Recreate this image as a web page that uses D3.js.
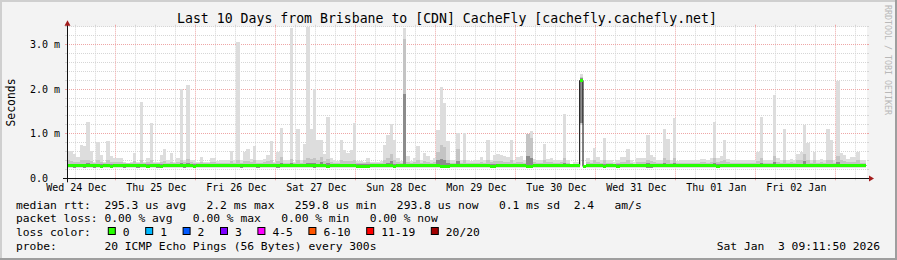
<!DOCTYPE html>
<html><head><meta charset="utf-8">
<script src="https://cdn.jsdelivr.net/npm/d3@7"></script>
<style>
html,body{margin:0;padding:0;background:#f3f3f3;}
svg{display:block;}
text{font-family:"DejaVu Sans Mono",monospace;white-space:pre;}
</style></head><body>
<svg id="c" width="897" height="260"></svg>
<script>
// ---------- data ----------
const titleText = "Last 10 Days from Brisbane to [CDN] CacheFly [cachefly.cachefly.net]";
const yAxisTitle = "Seconds";
const watermark = "RRDTOOL / TOBI OETIKER";
const endTime = new Date("2026-01-03T09:11:50Z");
const startTime = new Date("2025-12-24T09:11:50Z");
const firstBin = new Date("2025-12-24T09:00:00Z"); // hourly bins
const yMax = 3.4; // ms
const yTickValues = [0, 1, 2, 3];
const yTickLabels = ["0.0", "1.0 m", "2.0 m", "3.0 m"];
const dayLabels = ["Wed 24 Dec","Thu 25 Dec","Fri 26 Dec","Sat 27 Dec","Sun 28 Dec","Mon 29 Dec","Tue 30 Dec","Wed 31 Dec","Thu 01 Jan","Fri 02 Jan"];

// hourly smoke (ms): highest ping
const maxRtt = [
0.61,0.61,0.55,0.48,0.74,0.73,1.27,0.61,0.36,0.81,0.52,0.36,0.83,0.49,0.45,0.45,0.45,0.36,0.35,0.36,
0.57,0.36,1.71,0.36,0.46,1.24,0.36,0.36,0.52,0.65,0.40,0.57,0.36,0.46,2.00,0.42,2.09,0.42,0.42,0.36,
0.48,0.37,0.37,0.46,0.46,0.38,0.40,0.40,0.40,0.61,0.40,3.06,0.40,0.59,0.65,0.44,0.72,0.40,0.40,0.43,
0.52,0.83,0.36,0.59,1.13,0.40,0.40,3.38,0.36,1.10,0.40,0.77,3.39,1.10,2.00,0.85,0.85,0.55,1.38,0.46,
0.40,0.38,0.85,0.63,0.57,0.63,1.25,0.38,0.38,0.36,0.46,0.36,0.36,0.37,0.38,0.74,0.96,1.21,0.85,0.45,
0.38,3.38,0.50,0.38,0.45,0.72,0.40,0.57,0.49,0.40,0.46,1.09,2.04,1.69,0.84,0.40,0.40,1.02,0.40,1.02,
0.40,0.38,0.40,0.40,0.47,0.40,0.85,0.42,0.52,0.55,0.52,0.49,0.48,0.87,0.40,0.48,0.50,0.40,1.00,1.07,
0.44,0.40,0.40,0.76,0.44,0.46,0.40,0.40,0.42,1.44,0.40,0.33,0.37,0.37,2.34,0.30,0.46,0.40,0.68,0.48,
0.40,0.91,0.40,0.40,0.37,0.40,0.48,0.48,0.65,0.40,0.37,0.46,0.46,0.46,0.96,0.52,0.48,0.40,0.40,1.11,
0.88,0.42,1.35,0.39,0.40,0.40,0.40,0.40,0.40,0.40,0.44,0.44,0.40,0.46,1.27,0.45,0.50,0.85,0.44,0.40,
0.40,0.41,0.40,0.40,0.41,0.40,0.40,0.60,1.37,0.40,0.40,0.40,1.87,0.45,0.40,1.10,0.41,0.44,0.40,0.55,
0.58,1.20,0.80,0.40,0.58,0.40,0.44,0.40,1.10,0.85,0.40,2.19,0.57,0.53,0.44,0.48,0.47,0.60,0.41,0.41];

// second-highest ping region (top of mid smoke)
const p90Rtt = [
0.40,0.38,0.36,0.36,0.40,0.40,0.42,0.38,0.34,0.40,0.36,0.34,0.40,0.36,0.37,0.36,0.36,0.34,0.34,0.34,
0.38,0.34,0.40,0.34,0.36,0.42,0.34,0.34,0.36,0.38,0.35,0.36,0.34,0.36,0.42,0.36,0.44,0.36,0.35,0.34,
0.36,0.34,0.34,0.36,0.36,0.34,0.35,0.35,0.35,0.38,0.35,0.40,0.35,0.38,0.38,0.36,0.40,0.35,0.34,0.36,
0.38,0.42,0.34,0.38,0.48,0.35,0.35,0.44,0.34,0.40,0.35,0.40,0.46,0.44,0.45,0.42,0.48,0.38,0.44,0.36,
0.35,0.34,0.40,0.38,0.38,0.38,0.42,0.34,0.34,0.34,0.36,0.34,0.34,0.34,0.34,0.40,0.45,0.55,0.42,0.36,
0.34,3.12,0.36,0.34,0.36,0.40,0.35,0.38,0.36,0.35,0.36,0.60,0.75,0.70,0.42,0.35,0.35,0.65,0.35,0.40,
0.35,0.34,0.35,0.35,0.36,0.35,0.40,0.36,0.38,0.38,0.38,0.37,0.36,0.40,0.35,0.36,0.37,0.35,1.00,0.90,
0.36,0.35,0.35,0.40,0.36,0.36,0.35,0.35,0.36,0.45,0.35,0.31,0.33,0.33,2.28,0.29,0.36,0.35,0.40,0.36,
0.35,0.42,0.35,0.35,0.33,0.35,0.37,0.37,0.40,0.35,0.33,0.36,0.36,0.36,0.42,0.38,0.37,0.35,0.35,0.45,
0.42,0.35,0.45,0.34,0.35,0.35,0.35,0.35,0.35,0.35,0.36,0.36,0.35,0.36,0.45,0.36,0.38,0.42,0.36,0.35,
0.35,0.35,0.35,0.35,0.35,0.35,0.35,0.38,0.45,0.35,0.35,0.35,0.50,0.36,0.35,0.42,0.35,0.36,0.35,0.40,
0.40,0.55,0.42,0.35,0.40,0.35,0.36,0.35,0.42,0.40,0.35,0.50,0.40,0.38,0.36,0.37,0.37,0.40,0.35,0.35];

// upper quartile (top of dark inner smoke)
const upperRtt = [
0.33,0.32,0.32,0.32,0.33,0.33,0.34,0.32,0.31,0.33,0.32,0.31,0.33,0.32,0.32,0.32,0.32,0.31,0.31,0.31,
0.32,0.31,0.33,0.31,0.32,0.33,0.31,0.31,0.32,0.32,0.31,0.32,0.31,0.32,0.34,0.32,0.34,0.32,0.31,0.31,
0.32,0.31,0.31,0.32,0.32,0.32,0.32,0.32,0.32,0.33,0.32,0.33,0.32,0.32,0.32,0.32,0.33,0.32,0.31,0.32,
0.32,0.33,0.31,0.32,0.35,0.32,0.32,0.34,0.31,0.33,0.32,0.33,0.35,0.34,0.34,0.33,0.36,0.32,0.34,0.32,
0.32,0.31,0.33,0.32,0.32,0.32,0.33,0.31,0.31,0.31,0.31,0.31,0.31,0.31,0.31,0.32,0.34,0.38,0.33,0.31,
0.31,1.90,0.32,0.31,0.32,0.33,0.31,0.32,0.32,0.31,0.32,0.40,0.44,0.42,0.34,0.31,0.31,0.38,0.31,0.33,
0.31,0.31,0.31,0.31,0.32,0.31,0.33,0.32,0.32,0.32,0.32,0.32,0.32,0.33,0.31,0.32,0.32,0.31,0.50,0.45,
0.32,0.31,0.31,0.33,0.32,0.32,0.31,0.31,0.32,0.34,0.31,0.30,0.31,0.31,2.24,0.285,0.32,0.31,0.33,0.32,
0.31,0.33,0.31,0.31,0.30,0.31,0.32,0.32,0.33,0.31,0.30,0.32,0.32,0.32,0.34,0.33,0.32,0.31,0.31,0.34,
0.33,0.31,0.34,0.31,0.31,0.31,0.31,0.31,0.32,0.31,0.32,0.32,0.31,0.32,0.34,0.32,0.32,0.33,0.32,0.31,
0.31,0.31,0.31,0.31,0.31,0.31,0.31,0.32,0.34,0.31,0.31,0.31,0.36,0.32,0.31,0.33,0.31,0.32,0.31,0.33,
0.33,0.38,0.33,0.31,0.33,0.31,0.32,0.31,0.33,0.33,0.31,0.36,0.33,0.32,0.32,0.32,0.32,0.33,0.31,0.31];

// median rtt (ms)
const medianRtt = [
0.29,0.29,0.29,0.29,0.29,0.29,0.30,0.29,0.29,0.30,0.28,0.29,0.30,0.28,0.29,0.29,0.30,0.29,0.29,0.29,
0.29,0.29,0.30,0.29,0.28,0.29,0.29,0.29,0.28,0.29,0.29,0.29,0.30,0.29,0.29,0.29,0.29,0.29,0.28,0.29,
0.29,0.29,0.29,0.29,0.30,0.30,0.30,0.30,0.30,0.29,0.29,0.29,0.29,0.29,0.29,0.29,0.29,0.29,0.29,0.29,
0.29,0.29,0.29,0.29,0.29,0.29,0.29,0.29,0.29,0.29,0.29,0.29,0.29,0.29,0.29,0.29,0.30,0.29,0.28,0.29,
0.29,0.29,0.29,0.29,0.29,0.29,0.29,0.28,0.28,0.28,0.28,0.29,0.29,0.29,0.30,0.29,0.29,0.29,0.27,0.29,
0.29,0.29,0.29,0.29,0.29,0.29,0.29,0.29,0.29,0.29,0.29,0.29,0.28,0.28,0.27,0.29,0.29,0.29,0.29,0.29,
0.29,0.29,0.29,0.29,0.29,0.29,0.29,0.28,0.28,0.29,0.29,0.29,0.29,0.29,0.29,0.29,0.29,0.29,0.28,0.28,
0.29,0.29,0.29,0.29,0.29,0.30,0.29,0.29,0.29,0.29,0.29,0.29,0.29,0.29,2.20,0.28,0.29,0.29,0.29,0.29,
0.29,0.28,0.29,0.29,0.29,0.28,0.29,0.29,0.29,0.29,0.29,0.30,0.29,0.29,0.29,0.29,0.29,0.29,0.29,0.29,
0.29,0.29,0.29,0.29,0.29,0.29,0.29,0.29,0.30,0.29,0.29,0.29,0.29,0.29,0.29,0.28,0.29,0.29,0.29,0.29,
0.29,0.29,0.29,0.29,0.29,0.29,0.29,0.29,0.29,0.29,0.29,0.29,0.29,0.29,0.29,0.29,0.29,0.29,0.29,0.29,
0.29,0.29,0.29,0.29,0.29,0.29,0.29,0.29,0.29,0.29,0.29,0.29,0.29,0.30,0.29,0.29,0.29,0.29,0.29,0.29];

// lower quartile
const lowerRtt = [
0.25,0.25,0.24,0.25,0.25,0.24,0.25,0.25,0.24,0.25,0.24,0.25,0.25,0.24,0.25,0.25,0.25,0.24,0.25,0.25,
0.25,0.24,0.25,0.25,0.24,0.25,0.25,0.24,0.24,0.25,0.25,0.25,0.25,0.25,0.25,0.24,0.25,0.25,0.24,0.25,
0.25,0.25,0.25,0.25,0.26,0.26,0.26,0.26,0.26,0.25,0.25,0.25,0.24,0.25,0.25,0.25,0.25,0.24,0.25,0.25,
0.25,0.25,0.25,0.24,0.25,0.25,0.25,0.25,0.25,0.25,0.25,0.25,0.25,0.25,0.24,0.25,0.25,0.25,0.24,0.25,
0.25,0.25,0.25,0.25,0.25,0.25,0.25,0.24,0.24,0.24,0.24,0.25,0.25,0.25,0.25,0.25,0.25,0.25,0.23,0.25,
0.25,0.25,0.25,0.25,0.25,0.25,0.25,0.25,0.25,0.25,0.25,0.25,0.24,0.24,0.23,0.25,0.25,0.25,0.25,0.25,
0.25,0.25,0.25,0.25,0.25,0.25,0.25,0.24,0.24,0.25,0.25,0.25,0.25,0.25,0.25,0.25,0.25,0.25,0.24,0.24,
0.25,0.25,0.25,0.25,0.25,0.25,0.25,0.25,0.25,0.25,0.25,0.25,0.25,0.25,1.25,0.26,0.25,0.25,0.25,0.25,
0.25,0.24,0.25,0.25,0.25,0.24,0.25,0.25,0.25,0.25,0.25,0.25,0.25,0.25,0.24,0.24,0.25,0.25,0.25,0.25,
0.25,0.25,0.25,0.25,0.25,0.25,0.25,0.25,0.25,0.25,0.25,0.25,0.25,0.25,0.25,0.24,0.25,0.25,0.25,0.25,
0.25,0.25,0.25,0.25,0.25,0.25,0.25,0.25,0.25,0.25,0.25,0.25,0.25,0.25,0.25,0.25,0.25,0.25,0.25,0.25,
0.25,0.25,0.25,0.25,0.25,0.25,0.25,0.25,0.25,0.25,0.25,0.25,0.25,0.25,0.25,0.25,0.25,0.25,0.25,0.25];

// lowest ping
const minRtt = [
0.22,0.22,0.22,0.23,0.22,0.22,0.23,0.22,0.22,0.22,0.22,0.23,0.22,0.22,0.23,0.22,0.22,0.22,0.23,0.22,
0.22,0.22,0.23,0.22,0.22,0.22,0.23,0.22,0.22,0.22,0.22,0.22,0.23,0.22,0.22,0.22,0.22,0.23,0.22,0.22,
0.22,0.23,0.22,0.22,0.23,0.23,0.23,0.23,0.23,0.22,0.22,0.22,0.22,0.22,0.23,0.22,0.22,0.22,0.22,0.23,
0.22,0.22,0.23,0.22,0.22,0.22,0.23,0.22,0.22,0.22,0.22,0.23,0.22,0.22,0.22,0.22,0.23,0.22,0.22,0.22,
0.22,0.23,0.22,0.22,0.22,0.22,0.23,0.22,0.22,0.22,0.22,0.22,0.23,0.22,0.22,0.22,0.22,0.22,0.22,0.22,
0.23,0.22,0.22,0.22,0.22,0.23,0.22,0.22,0.22,0.22,0.22,0.22,0.22,0.22,0.22,0.23,0.22,0.22,0.22,0.22,
0.22,0.22,0.23,0.22,0.22,0.22,0.22,0.22,0.22,0.22,0.23,0.22,0.22,0.22,0.22,0.22,0.23,0.22,0.22,0.22,
0.22,0.22,0.22,0.23,0.22,0.22,0.22,0.22,0.22,0.22,0.22,0.23,0.22,0.22,1.19,0.24,0.22,0.22,0.22,0.22,
0.22,0.22,0.22,0.22,0.23,0.22,0.22,0.22,0.22,0.23,0.22,0.22,0.22,0.22,0.22,0.22,0.22,0.23,0.22,0.22,
0.22,0.22,0.22,0.22,0.22,0.23,0.22,0.22,0.22,0.22,0.22,0.22,0.23,0.22,0.22,0.22,0.22,0.22,0.22,0.23,
0.22,0.22,0.22,0.22,0.22,0.22,0.23,0.22,0.22,0.22,0.22,0.22,0.22,0.23,0.22,0.22,0.22,0.22,0.22,0.22,
0.23,0.22,0.22,0.22,0.22,0.22,0.22,0.22,0.23,0.22,0.22,0.22,0.22,0.22,0.22,0.22,0.23,0.22,0.22,0.22];

const legendMedian = "median rtt:  295.3 us avg   2.2 ms max   259.8 us min   293.8 us now   0.1 ms sd  2.4   am/s";
const legendLoss = "packet loss: 0.00 % avg   0.00 % max   0.00 % min   0.00 % now";
const legendLossTitle = "loss color:";
const lossLabels = ["0","1","2","3","4-5","6-10","11-19","20/20"];
const lossColors = ["#26ff00","#00b8ff","#0059ff","#7e00ff","#ff00ff","#ff5500","#ff0000","#a10000"];
const legendProbe = "probe:       20 ICMP Echo Pings (56 Bytes) every 300s";
const stampText = "Sat Jan  3 09:11:50 2026";

// ---------- drawing ----------
const W = 897, H = 260;
const svg = d3.select("#c");
const x = d3.scaleUtc().domain([startTime, endTime]).range([67, 867]);
const y = d3.scaleLinear().domain([0, yMax]).range([178.3, 26.7]);
const plotL = x.range()[0], plotR = x.range()[1], plotT = y(yMax), plotB = y(0);
const cw = 6.8; // legend char width

svg.append("rect").attr("width", W).attr("height", H).attr("fill", "#f3f3f3");
// frame shading
svg.append("rect").attr("x",0).attr("y",0).attr("width",W).attr("height",2).attr("fill","#cfcfcf");
svg.append("rect").attr("x",0).attr("y",0).attr("width",2).attr("height",H).attr("fill","#cfcfcf");
svg.append("rect").attr("x",0).attr("y",H-2).attr("width",W).attr("height",2).attr("fill","#9e9e9e");
svg.append("rect").attr("x",W-2).attr("y",0).attr("width",2).attr("height",H).attr("fill","#9e9e9e");

// canvas
svg.append("rect").attr("x", plotL).attr("y", plotT).attr("width", plotR - plotL).attr("height", plotB - plotT).attr("fill", "#ffffff");

const defs = svg.append("defs");
defs.append("clipPath").attr("id","clip").append("rect")
  .attr("x", plotL).attr("y", plotT).attr("width", plotR - plotL).attr("height", plotB - plotT + 1);

const minorCol = "#d6d6d6", majorCol = "#eea6a6";
const vx = v => Math.round(x(v)) - 0.5;
const hy = v => Math.floor(y(v)) + 0.5;

// grid
const g = svg.append("g");
const minorV = d3.utcHour.every(6).range(startTime, endTime).filter(d => d.getUTCHours() !== 0);
const majorV = d3.utcDay.range(startTime, endTime);
const minorH = d3.range(1, 18).filter(k => k % 5 !== 0).map(k => k * 0.2);
const majorH = yTickValues.filter(v => v > 0);

function vgrid(list, col) {
  g.selectAll(null).data(list).enter().append("line")
    .attr("x1", vx).attr("x2", vx).attr("y1", plotT).attr("y2", plotB)
    .attr("stroke", col).attr("stroke-dasharray", "1,1");
  g.selectAll(null).data(list).enter().append("line")
    .attr("x1", vx).attr("x2", vx).attr("y1", plotB).attr("y2", plotB + 2).attr("stroke", col);
  g.selectAll(null).data(list).enter().append("line")
    .attr("x1", vx).attr("x2", vx).attr("y1", plotT - 2).attr("y2", plotT).attr("stroke", col);
}
function hgrid(list, col) {
  g.selectAll(null).data(list).enter().append("line")
    .attr("x1", plotL).attr("x2", plotR).attr("y1", hy).attr("y2", hy)
    .attr("stroke", col).attr("stroke-dasharray", "1,1");
  g.selectAll(null).data(list).enter().append("line")
    .attr("x1", plotL - 2).attr("x2", plotL).attr("y1", hy).attr("y2", hy).attr("stroke", col);
  g.selectAll(null).data(list).enter().append("line")
    .attr("x1", plotR).attr("x2", plotR + 2).attr("y1", hy).attr("y2", hy).attr("stroke", col);
}
vgrid(minorV, minorCol); hgrid(minorH, minorCol);
vgrid(majorV, majorCol); hgrid(majorH, majorCol);

// smoke
const bins = d3.range(maxRtt.length);
const bt = i => d3.utcHour.offset(firstBin, i);
const smoke = svg.append("g").attr("clip-path", "url(#clip)").attr("shape-rendering", "crispEdges");
const bands = [
  {lo: minRtt, hi: maxRtt, color: "#dddddd"},
  {lo: lowerRtt, hi: p90Rtt, color: "#c4c4c4"},
  {lo: lowerRtt, hi: upperRtt, color: "#8c8c8c"}
];
bands.forEach(b => {
  smoke.selectAll(null).data(bins).enter().append("rect")
    .attr("x", i => x(bt(i)))
    .attr("width", i => x(bt(i + 1)) - x(bt(i)))
    .attr("y", i => y(b.hi[i]))
    .attr("height", i => y(b.lo[i]) - y(b.hi[i]))
    .attr("fill", b.color);
});

// median: dark step line, then loss-coloured band
const medPts = bins.map(i => [bt(i), medianRtt[i]]).concat([[bt(bins.length), medianRtt[bins.length - 1]]]);
const medLine = d3.line().x(d => x(d[0])).y(d => Math.round(y(d[1])) + 0.5).curve(d3.curveStepAfter);
const medG = svg.append("g").attr("clip-path", "url(#clip)");
medG.append("path").attr("d", medLine(medPts)).attr("fill", "none").attr("stroke", "#000").attr("stroke-width", 1);
medG.selectAll(null).data(bins).enter().append("rect")
  .attr("shape-rendering", "crispEdges")
  .attr("x", i => x(bt(i)))
  .attr("width", i => x(bt(i + 1)) - x(bt(i)))
  .attr("y", i => Math.round(y(medianRtt[i])) - 1)
  .attr("height", 3)
  .attr("fill", lossColors[0]);

// axes
const axCol = "#111", arrowCol = "#a31c1c";
svg.append("line").attr("x1", plotL - 4).attr("x2", plotR + 3).attr("y1", Math.floor(plotB) + 0.5).attr("y2", Math.floor(plotB) + 0.5).attr("stroke", axCol);
svg.append("line").attr("x1", plotL + 0.5).attr("x2", plotL + 0.5).attr("y1", plotB + 4).attr("y2", plotT - 3).attr("stroke", axCol);
const ab = Math.floor(plotB) + 0.5;
svg.append("path").attr("d", `M${plotR + 2},${ab - 3}L${plotR + 7},${ab}L${plotR + 2},${ab + 3}Z`).attr("fill", arrowCol);
svg.append("path").attr("d", `M${plotL - 2.5},${plotT - 1}L${plotL + 0.5},${plotT - 6.5}L${plotL + 3.5},${plotT - 1}Z`).attr("fill", arrowCol);

// y tick labels
svg.selectAll(null).data(yTickValues).enter().append("text")
  .attr("x", 30).attr("y", v => y(v) + 3.6)
  .attr("font-size", 10).attr("fill", "#000")
  .text((v, i) => yTickLabels[i]);

// x day labels at noon
svg.selectAll(null).data(dayLabels).enter().append("text")
  .attr("x", (d, i) => x(d3.utcHour.offset(d3.utcDay.offset(d3.utcDay.floor(startTime), i), 12)))
  .attr("y", 191).attr("text-anchor", "middle")
  .attr("font-size", 10).attr("fill", "#000").text(d => d);

// title
svg.append("text").attr("x", 447).attr("y", 23).attr("text-anchor", "middle")
  .attr("font-size", 13.2).attr("fill", "#000").text(titleText);

// y axis title
svg.append("text").attr("transform", `translate(15,${(plotT + plotB) / 2}) rotate(-90)`)
  .attr("text-anchor", "middle").attr("font-size", 11.4).attr("fill", "#000").text(yAxisTitle);

// watermark
svg.append("text").attr("transform", "translate(885,5) rotate(90)")
  .attr("font-size", 8.3).attr("fill", "#b8b8b8").text(watermark);

// legend
const lx = 16;
const rows = [208.5, 222.3, 236.1, 249.9];
svg.append("text").attr("x", lx).attr("y", rows[0]).attr("font-size", 11.3).attr("fill", "#000").text(legendMedian);
svg.append("text").attr("x", lx).attr("y", rows[1]).attr("font-size", 11.3).attr("fill", "#000").text(legendLoss);
svg.append("text").attr("x", lx).attr("y", rows[2]).attr("font-size", 11.3).attr("fill", "#000").text(legendLossTitle);
let col = 13.5;
const lossItems = lossLabels.map((l, i) => { const c = col; col += l.length + 4.5; return {l, c, color: lossColors[i]}; });
svg.selectAll(null).data(lossItems).enter().append("rect")
  .attr("x", d => lx + d.c * cw + 0.5).attr("y", rows[2] - 8.6)
  .attr("width", 7).attr("height", 7)
  .attr("fill", d => d.color).attr("stroke", "#000").attr("stroke-width", 1);
svg.selectAll(null).data(lossItems).enter().append("text")
  .attr("x", d => lx + d.c * cw + 15).attr("y", rows[2])
  .attr("font-size", 11.3).attr("fill", "#000").text(d => d.l);
svg.append("text").attr("x", lx).attr("y", rows[3]).attr("font-size", 11.3).attr("fill", "#000").text(legendProbe);
svg.append("text").attr("x", 880).attr("y", rows[3]).attr("text-anchor", "end").attr("font-size", 11.3).attr("fill", "#000").text(stampText);
</script>
</body></html>
